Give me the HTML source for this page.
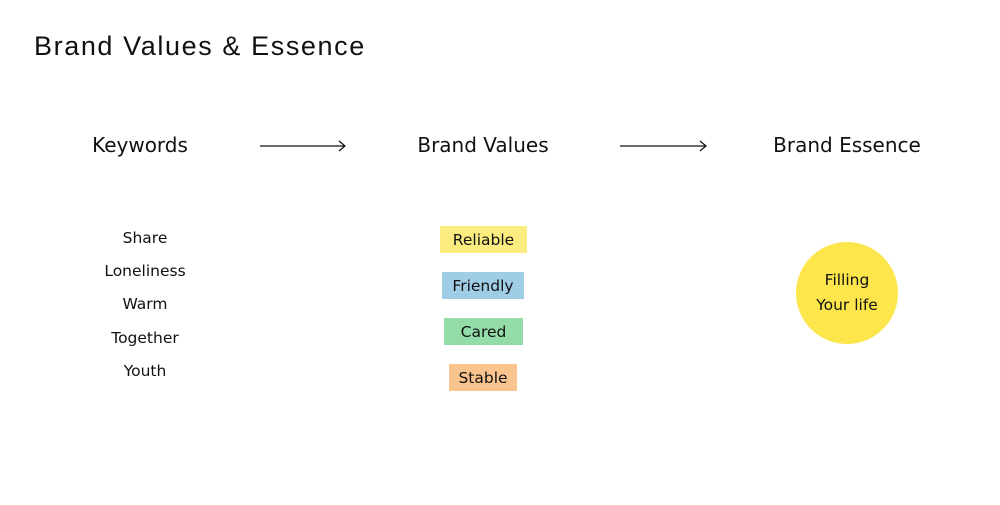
<!DOCTYPE html>
<html><head><meta charset="utf-8"><style>
html,body{margin:0;padding:0;background:#fff;}
body{width:1000px;height:505px;position:relative;overflow:hidden;font-family:"DejaVu Sans","Liberation Sans",sans-serif;color:#111;}
.a{position:absolute;white-space:nowrap;}
.t{left:34px;top:31px;font-size:27px;font-family:"Liberation Sans",sans-serif;letter-spacing:1.6px;}
.h{top:133px;font-size:20px;transform:translateX(-50%);}
.k{font-size:15.5px;transform:translate(-50%,-50%);left:145px;}
.b{font-size:15.5px;display:flex;align-items:center;justify-content:center;}
.c{left:796px;top:242px;width:102px;height:102px;border-radius:50%;background:#fde54c;display:flex;align-items:center;justify-content:center;text-align:center;font-size:15.5px;line-height:25px;}
</style></head><body>
<div class="a t">Brand Values &amp; Essence</div>
<div class="a h" style="left:140px">Keywords</div>
<div class="a h" style="left:483px">Brand Values</div>
<div class="a h" style="left:847px">Brand Essence</div>
<svg class="a" style="left:0;top:0" width="1000" height="505">
<g stroke="#111" stroke-width="1.2" fill="none">
<line x1="260" y1="146" x2="345" y2="146"/><polyline points="339,141 345,146 339,151"/>
<line x1="620" y1="146" x2="706" y2="146"/><polyline points="700,141 706,146 700,151"/>
</g></svg>
<div class="a k" style="top:238px">Share</div>
<div class="a k" style="top:271px">Loneliness</div>
<div class="a k" style="top:304px">Warm</div>
<div class="a k" style="top:338px">Together</div>
<div class="a k" style="top:371px">Youth</div>
<div class="a b" style="left:440px;top:226px;width:87px;height:27px;background:#fbec80">Reliable</div>
<div class="a b" style="left:442px;top:272px;width:82px;height:27px;background:#9fcde6">Friendly</div>
<div class="a b" style="left:444px;top:318px;width:79px;height:27px;background:#93dba7">Cared</div>
<div class="a b" style="left:449px;top:364px;width:68px;height:27px;background:#f9c48d">Stable</div>
<div class="a c"><div>Filling<br>Your life</div></div>
</body></html>
